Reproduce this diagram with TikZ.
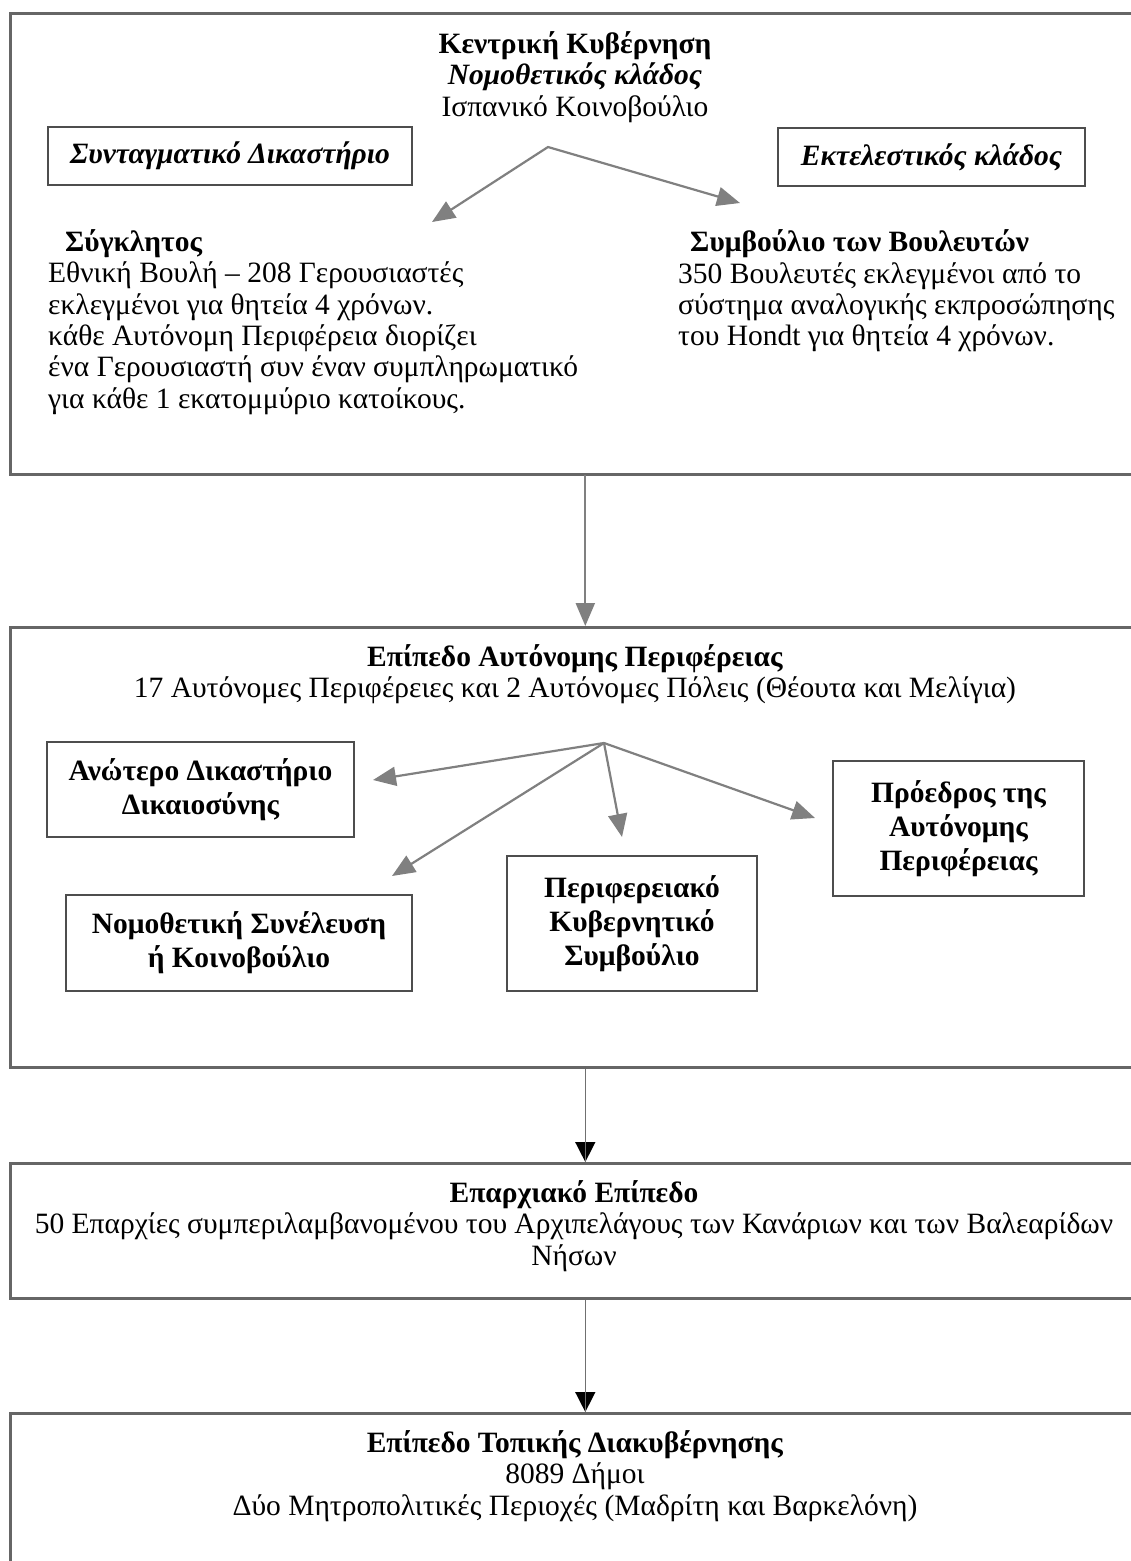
\documentclass[tikz,border=0pt]{standalone}
\usepackage{fontspec}
\setmainfont{Liberation Serif}
\usetikzlibrary{arrows.meta}
\definecolor{framegray}{HTML}{666666}
\definecolor{boxgray}{HTML}{4D4D4D}
\definecolor{arrowgray}{HTML}{808080}
\definecolor{stemgray}{HTML}{707070}
\begin{document}
\begin{tikzpicture}[x=1pt,y=-1pt,
  level/.style={draw=framegray, line width=2.6pt, anchor=north west, minimum width=1150pt, inner sep=0pt},
  unit/.style={draw=boxgray, line width=2pt, align=center, inner sep=0pt, font=\fontsize{29.5}{34}\selectfont\bfseries},
  branchbox/.style={draw=boxgray, line width=2pt, inner sep=0pt, font=\fontsize{29.5}{34}\selectfont\bfseries\itshape},
  body/.style={inner sep=0pt, font=\fontsize{29.5}{31.3}\selectfont},
  tip/.tip={Triangle[length=23pt,width=19pt]},
  link/.style={draw=arrowgray, line width=2.2pt, line cap=round, -tip},
  descent/.style={draw=stemgray, line width=1.5pt, -{Triangle[length=20pt,width=20pt,color=black]},
    postaction={draw=stemgray, line width=1.5pt, arrows=-}}
]
\useasboundingbox (0,0) rectangle (1131,1561);
\fill[white] (0,0) rectangle (1131,1561);
\clip (0,0) rectangle (1131,1561);

% the four levels of government
\node[level, minimum height=461pt] (central) at (9,12) {};
\node[level, minimum height=440pt] (regional) at (9,626) {};
\node[level, minimum height=135pt] (provincial) at (9,1162) {};
\node[level, minimum height=300pt] (local) at (9,1412) {};

% central government
\node[body, align=center] (centralhead) at (575,77)
  {\textbf{Κεντρική Κυβέρνηση}\\\textbf{\textit{Νομοθετικός κλάδος}}\\Ισπανικό Κοινοβούλιο};
\node[branchbox, minimum width=364pt, minimum height=58pt] (court) at (230,156) {Συνταγματικό Δικαστήριο};
\node[branchbox, minimum width=307pt, minimum height=58pt] (exec) at (931.5,157) {Εκτελεστικός κλάδος};
\node[body, align=left, anchor=west] (senate) at (48,322)
  {\hspace*{17pt}\textbf{Σύγκλητος}\\
   Εθνική Βουλή – 208 Γερουσιαστές\\
   εκλεγμένοι για θητεία 4 χρόνων.\\
   κάθε Αυτόνομη Περιφέρεια διορίζει\\
   ένα Γερουσιαστή συν έναν συμπληρωματικό\\
   για κάθε 1 εκατομμύριο κατοίκους.};
\node[body, align=left, anchor=west] (congress) at (678,291)
  {\hspace*{12pt}\textbf{Συμβούλιο των Βουλευτών}\\
   350 Βουλευτές εκλεγμένοι από το\\
   σύστημα αναλογικής εκπροσώπησης\\
   του Hondt για θητεία 4 χρόνων.};
\coordinate (fork) at (548,147);
\coordinate (senatetip) at (432,222);
\coordinate (congresstip) at (740,203);
\draw[link, tip-tip, line join=miter] (senatetip) -- (fork) -- (congresstip);

% autonomous communities
\node[body, align=center] (regionhead) at (575,674)
  {\textbf{Επίπεδο Αυτόνομης Περιφέρειας}\\17 Αυτόνομες Περιφέρειες και 2 Αυτόνομες Πόλεις (Θέουτα και Μελίγια)};
\node[unit, minimum width=307pt, minimum height=95pt] (tsj) at (200.5,789.5) {Ανώτερο Δικαστήριο\\Δικαιοσύνης};
\node[unit, minimum width=346pt, minimum height=96pt] (assembly) at (239,943) {Νομοθετική Συνέλευση\\ή Κοινοβούλιο};
\node[unit, minimum width=250pt, minimum height=135pt] (council) at (632,923.5) {Περιφερειακό\\Κυβερνητικό\\Συμβούλιο};
\node[unit, minimum width=251pt, minimum height=135pt] (president) at (958.5,828.5) {Πρόεδρος της\\Αυτόνομης\\Περιφέρειας};
\coordinate (hub) at (604,743);
\coordinate (tsjtip) at (373,780);
\coordinate (assemblytip) at (392,876);
\coordinate (counciltip) at (622,837);
\coordinate (presidenttip) at (815,818);
\draw[link] (hub) -- (tsjtip);
\draw[link] (hub) -- (assemblytip);
\draw[link] (hub) -- (counciltip);
\draw[link] (hub) -- (presidenttip);

% provinces
\node[body, align=center] (provhead) at (574,1226)
  {\textbf{Επαρχιακό Επίπεδο}\\50 Επαρχίες συμπεριλαμβανομένου του Αρχιπελάγους των Κανάριων και των Βαλεαρίδων\\Νήσων};

% local government
\node[body, align=center] (localhead) at (575,1476)
  {\textbf{Επίπεδο Τοπικής Διακυβέρνησης}\\8089 Δήμοι\\Δύο Μητροπολιτικές Περιοχές (Μαδρίτη και Βαρκελόνη)};

% links between levels
\draw[link] (central.south) -- (regional.north);
\draw[descent] (regional.south) -- (provincial.north);
\draw[descent] (provincial.south) -- (local.north);
\end{tikzpicture}
\end{document}
